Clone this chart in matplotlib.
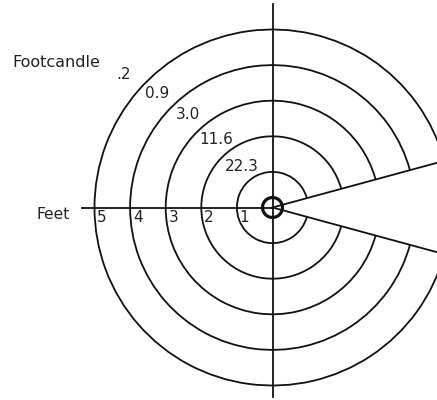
import numpy as np
import matplotlib.pyplot as plt
from matplotlib.patches import Arc, Circle

# distance from the lamp (feet) and light level at that distance
feet = [1, 2, 3, 4, 5]
footcandle = ['22.3', '11.6', '3.0', '0.9', '.2']

beam_half = 15.2   # half angle of the open wedge, degrees
px = 35.6          # pixels per foot in the output

fig = plt.figure(figsize=(4.37, 4.0), dpi=100)
ax = fig.add_axes([0, 0, 1, 1])
ax.set_xlim(-272.5 / px, (437 - 272.5) / px)
ax.set_ylim(-192.5 / px, 207.5 / px)
ax.set_aspect('equal')
ax.axis('off')

lc = '#111111'

# rings, cut open on the right by the wedge
for f in feet:
    ax.add_patch(Arc((0, 0), 2 * f, 2 * f, theta1=beam_half, theta2=360 - beam_half,
                     color=lc, lw=1.3))

# axes lines
ax.plot([0, 0], [-5.32, 5.72], color=lc, lw=1.3)
ax.plot([-5.35, 0], [0, 0], color=lc, lw=1.3)

# wedge edges
for a in (beam_half, -beam_half):
    t = np.radians(a)
    ax.plot([0, 7 * np.cos(t)], [0, 7 * np.sin(t)], color=lc, lw=1.3)

# lamp
ax.add_patch(Circle((0, 0), 0.28, fill=False, color=lc, lw=2.3, zorder=5))

# feet numbers along the horizontal line
for f in feet:
    ax.text(-f + 0.08, -0.41, str(f), ha='left', va='baseline', fontsize=11, color='#222222')

# footcandle readings along the upper left
for f, lab in zip(feet, footcandle):
    ang = np.radians(126 + 3 * (f - 1))
    r = f + 0.47 + 0.04 * (f - 1)
    ax.text(r * np.cos(ang), r * np.sin(ang) - 0.16, lab, ha='center', va='baseline',
            fontsize=11, color='#222222')

ax.text(-6.15, -0.323, 'Feet', ha='center', va='baseline', fontsize=11.2, color='#222222')
ax.text(-6.08, 3.94, 'Footcandle', ha='center', va='baseline', fontsize=11.5, color='#222222')

fig.savefig('out.png', dpi=100)
